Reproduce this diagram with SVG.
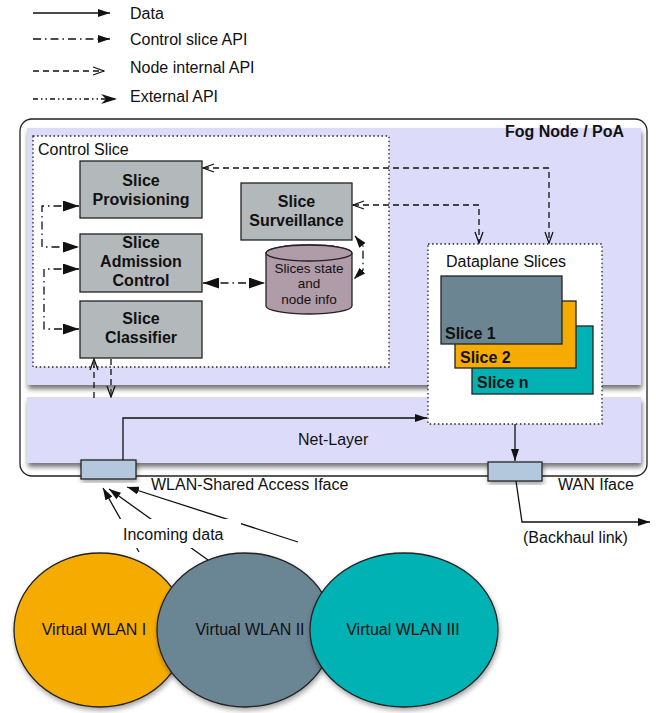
<svg xmlns="http://www.w3.org/2000/svg" width="656" height="713" viewBox="0 0 656 713">
  <defs>
    <style>
      text { font-family: "Liberation Sans", Arial, sans-serif; fill: #111; }
      .t16 { font-size: 16px; }
      .b16 { font-size: 16px; font-weight: bold; }
      .t13 { font-size: 13.5px; }
      .mid { text-anchor: middle; }
      .box { fill: #b3b8bb; stroke: #222; stroke-width: 1.3; }
      .panel { fill: #dcdcfa; }
      .dotted { fill: #fff; stroke: #222; stroke-width: 1.3; stroke-dasharray: 1.5 2.6; }
      .iface { fill: #b3c7dd; stroke: #222; stroke-width: 1.3; }
      .data { fill: none; stroke: #111; stroke-width: 1.3; }
      .ctrl { fill: none; stroke: #111; stroke-width: 1.3; stroke-dasharray: 8 4 1.5 4; }
      .node { fill: none; stroke: #111; stroke-width: 1.3; stroke-dasharray: 6 4; }
      .ext { fill: none; stroke: #111; stroke-width: 1.3; stroke-dasharray: 5 3 1.5 3 1.5 3; }
      .slice { stroke: #222; stroke-width: 1.3; }
    </style>
    <marker id="arrBig" viewBox="0 0 16 11" refX="16" refY="5.5" markerWidth="16" markerHeight="11" markerUnits="userSpaceOnUse" orient="auto-start-reverse">
      <path d="M0,0 L16,5.5 L0,11 z" fill="#111"/>
    </marker>
    <marker id="arrSm" viewBox="0 0 12 8" refX="12" refY="4" markerWidth="12" markerHeight="8" markerUnits="userSpaceOnUse" orient="auto-start-reverse">
      <path d="M0,0 L12,4 L0,8 z" fill="#111"/>
    </marker>
    <marker id="arrOpen" viewBox="-1 -1 13 10" refX="11" refY="4" markerWidth="13" markerHeight="10" markerUnits="userSpaceOnUse" orient="auto-start-reverse">
      <path d="M0,0 L11,4 L0,8" fill="none" stroke="#111" stroke-width="1.3"/>
    </marker>
    <marker id="arrBarb" viewBox="0 0 16 10" refX="16" refY="5" markerWidth="16" markerHeight="10" markerUnits="userSpaceOnUse" orient="auto">
      <path d="M0,0 L16,5 L0,10 L5,5 z" fill="#111"/>
    </marker>
    <filter id="shadow" x="-10%" y="-10%" width="125%" height="135%">
      <feDropShadow dx="1" dy="4" stdDeviation="2.5" flood-color="#000" flood-opacity="0.55"/>
    </filter>
    <filter id="shadowSoft" x="-10%" y="-10%" width="125%" height="130%">
      <feDropShadow dx="1" dy="3" stdDeviation="2.5" flood-color="#000" flood-opacity="0.35"/>
    </filter>
  </defs>

  <!-- Legend -->
  <g id="legend">
    <line x1="33" y1="13" x2="110" y2="13" class="data" marker-end="url(#arrSm)"/>
    <text x="130" y="19" class="t16">Data</text>
    <line x1="33" y1="39" x2="110" y2="39" class="ctrl" marker-end="url(#arrSm)"/>
    <text x="130" y="45" class="t16">Control slice API</text>
    <line x1="33" y1="71" x2="104" y2="71" class="node" marker-end="url(#arrOpen)"/>
    <text x="130" y="73" class="t16">Node internal API</text>
    <line x1="33" y1="99" x2="117" y2="99" class="ext" marker-end="url(#arrBarb)"/>
    <text x="130" y="102" class="t16">External API</text>
  </g>

  <!-- Fog node frame with its two layers -->
  <g id="fog-node">
    <rect x="20" y="119" width="627" height="357" rx="12" fill="#fff" stroke="#222" stroke-width="1.3"/>
    <rect x="27" y="128" width="614" height="257" class="panel" filter="url(#shadow)"/>
    <text x="505" y="137" class="b16">Fog Node / PoA</text>
  </g>
  <g id="net-layer">
    <rect x="27" y="397" width="614" height="66" class="panel" filter="url(#shadow)"/>
    <text x="298" y="445" class="t16">Net-Layer</text>
  </g>

  <!-- Control slice container -->
  <g id="control-slice">
    <rect x="33" y="136" width="356" height="231" class="dotted"/>
    <text x="38" y="155" class="t16">Control Slice</text>
  </g>

  <g id="slice-provisioning">
    <rect x="80" y="161" width="122" height="57" class="box"/>
    <text x="141" y="186" class="b16 mid">Slice</text>
    <text x="141" y="205" class="b16 mid">Provisioning</text>
  </g>
  <g id="slice-admission">
    <rect x="80" y="234" width="122" height="58" class="box"/>
    <text x="141" y="248" class="b16 mid">Slice</text>
    <text x="141" y="267" class="b16 mid">Admission</text>
    <text x="141" y="286" class="b16 mid">Control</text>
  </g>
  <g id="slice-classifier">
    <rect x="80" y="301" width="122" height="57" class="box"/>
    <text x="141" y="324" class="b16 mid">Slice</text>
    <text x="141" y="343" class="b16 mid">Classifier</text>
  </g>
  <g id="slice-surveillance">
    <rect x="241" y="183" width="111" height="57" class="box"/>
    <text x="296.5" y="207" class="b16 mid">Slice</text>
    <text x="296.5" y="226" class="b16 mid">Surveillance</text>
  </g>
  <g id="slices-state">
    <path d="M266,253 L266,306 A43,8 0 0 0 352,306 L352,253 A43,8 0 0 0 266,253 z" fill="#b09ba8" stroke="#222" stroke-width="1.3"/>
    <ellipse cx="309" cy="253" rx="43" ry="8" fill="#b09ba8" stroke="#222" stroke-width="1.3"/>
    <text x="309" y="273" class="t13 mid">Slices state</text>
    <text x="309" y="288" class="t13 mid">and</text>
    <text x="309" y="304" class="t13 mid">node info</text>
  </g>

  <!-- Dataplane slices -->
  <g id="dataplane-slices">
    <rect x="428" y="244" width="174" height="180" class="dotted"/>
    <text x="446" y="267" class="t16">Dataplane Slices</text>
  </g>
  <g id="slice-n">
    <rect x="472" y="326" width="121" height="68" fill="#00b2b4" class="slice"/>
    <text x="477" y="388" class="b16">Slice n</text>
  </g>
  <g id="slice-2">
    <rect x="455" y="301" width="121" height="67" fill="#f5ab00" class="slice"/>
    <text x="460" y="363" class="b16">Slice 2</text>
  </g>
  <g id="slice-1">
    <rect x="441" y="276" width="121" height="68" fill="#6b8593" class="slice"/>
    <text x="445" y="339" class="b16">Slice 1</text>
  </g>

  <!-- Interfaces -->
  <g id="wlan-iface">
    <rect x="81" y="460" width="55" height="19" class="iface" filter="url(#shadowSoft)"/>
    <text x="151" y="490" class="t16">WLAN-Shared Access Iface</text>
  </g>
  <g id="wan-iface">
    <rect x="488" y="462" width="54" height="19" class="iface" filter="url(#shadowSoft)"/>
    <text x="558" y="490" class="t16">WAN Iface</text>
  </g>

  <!-- Connectors -->
  <g id="connectors">
    <!-- node internal API -->
    <path d="M203,168 L549,168 L549,243" class="node" marker-start="url(#arrOpen)" marker-end="url(#arrOpen)"/>
    <path d="M353,205 L479,205 L479,243" class="node" marker-start="url(#arrOpen)" marker-end="url(#arrOpen)"/>
    <line x1="94" y1="398" x2="94" y2="359" class="node" marker-end="url(#arrOpen)"/>
    <line x1="111" y1="359" x2="111" y2="397" class="node" marker-end="url(#arrOpen)"/>
    <!-- control slice API -->
    <path d="M79,206 L42,206 L42,247 L79,247" class="ctrl" marker-start="url(#arrBig)" marker-end="url(#arrBig)"/>
    <path d="M79,269 L44,269 L44,329 L79,329" class="ctrl" marker-start="url(#arrBig)" marker-end="url(#arrBig)"/>
    <line x1="203" y1="283" x2="265" y2="283" class="ctrl" marker-start="url(#arrBig)" marker-end="url(#arrBig)"/>
    <path d="M355,236 L363,246 L363,270 L354,279" class="ctrl" marker-start="url(#arrSm)" marker-end="url(#arrSm)"/>
    <!-- data -->
    <path d="M123,460 L123,418 L427,418" class="data" marker-end="url(#arrSm)"/>
    <line x1="515" y1="424" x2="515" y2="461" class="data" marker-end="url(#arrSm)"/>
    <path d="M516,481 L522,522 L650,522" class="data" marker-end="url(#arrSm)"/>
    <line x1="139" y1="552" x2="103" y2="488" class="data" marker-end="url(#arrSm)"/>
    <line x1="208" y1="560" x2="109" y2="489" class="data" marker-end="url(#arrSm)"/>
    <line x1="298" y1="542" x2="127" y2="487" class="data" marker-end="url(#arrSm)"/>
  </g>

  <g id="incoming-label">
    <rect x="117" y="519" width="124" height="29" fill="#fff"/>
    <text x="123" y="540" class="t16">Incoming data</text>
  </g>
  <text x="523" y="543" class="t16">(Backhaul link)</text>

  <!-- Virtual WLANs -->
  <g id="vwlan-1">
    <ellipse cx="100" cy="630" rx="86" ry="77" fill="#f5ab00" stroke="#222" stroke-width="1.3" filter="url(#shadowSoft)"/>
    <text x="94" y="635" class="t16 mid">Virtual WLAN I</text>
  </g>
  <g id="vwlan-2">
    <ellipse cx="245" cy="630" rx="88" ry="77" fill="#6b8593" stroke="#222" stroke-width="1.3" filter="url(#shadowSoft)"/>
    <text x="250" y="635" class="t16 mid">Virtual WLAN II</text>
  </g>
  <g id="vwlan-3">
    <ellipse cx="404" cy="630" rx="94" ry="77" fill="#00b2b4" stroke="#222" stroke-width="1.3" filter="url(#shadowSoft)"/>
    <text x="403" y="635" class="t16 mid">Virtual WLAN III</text>
  </g>
</svg>
